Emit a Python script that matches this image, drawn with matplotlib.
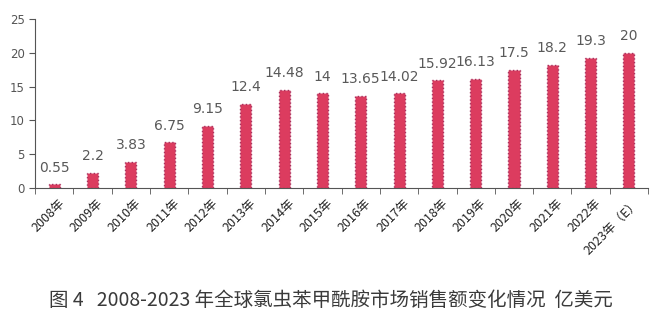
import matplotlib.pyplot as plt
import numpy as np

plt.rcParams['font.family'] = ['Noto Sans CJK SC', 'DejaVu Sans']

# data
years = ['2008年', '2009年', '2010年', '2011年', '2012年', '2013年', '2014年', '2015年',
         '2016年', '2017年', '2018年', '2019年', '2020年', '2021年', '2022年', '2023年（E）']
sales = [0.55, 2.2, 3.83, 6.75, 9.15, 12.4, 14.48, 14, 13.65, 14.02, 15.92, 16.13, 17.5, 18.2, 19.3, 20]
labels = ['0.55', '2.2', '3.83', '6.75', '9.15', '12.4', '14.48', '14', '13.65', '14.02',
          '15.92', '16.13', '17.5', '18.2', '19.3', '20']

fig = plt.figure(figsize=(6.62, 3.18), dpi=100)
ax = fig.add_axes([0.053, 0.409, 0.926, 0.531])

x = np.arange(len(years))
bars = ax.bar(x, sales, width=0.29, color='#dc3c5f', edgecolor='#a8305e',
              linewidth=1.0, linestyle=':')

# value labels
for xi, v, lab in zip(x, sales, labels):
    ax.annotate(lab, (xi, v), xytext=(0, 7), textcoords='offset points',
                ha='center', va='bottom', fontsize=10, color='#595959',
                family=['DejaVu Sans'])

ax.set_xlim(-0.5, len(years) - 0.5)
ax.set_ylim(0, 25)
ax.set_yticks([0, 5, 10, 15, 20, 25])
ax.tick_params(axis='y', labelsize=8.5, colors='#555555', length=4, direction='out')
for lbl in ax.get_yticklabels():
    lbl.set_family(['DejaVu Sans'])

# category labels at bar centres, tick marks at boundaries
ax.set_xticks(x + 0.1)
ax.set_xticklabels(years, rotation=45, ha='right', rotation_mode='anchor',
                   fontsize=9, color='#222222')
ax.tick_params(axis='x', which='major', length=0, pad=6)
ax.set_xticks(np.arange(-0.5, len(years)), minor=True)
ax.tick_params(axis='x', which='minor', length=4, color='#555555', direction='out')

ax.spines['top'].set_visible(False)
ax.spines['right'].set_visible(False)
ax.spines['left'].set_color('#555555')
ax.spines['bottom'].set_color('#555555')

fig.text(0.5, 0.055, '图 4   2008-2023 年全球氯虫苯甲酰胺市场销售额变化情况  亿美元',
         ha='center', va='center', fontsize=14, color='#3a3a3a')

fig.savefig('out.png', dpi=100)
